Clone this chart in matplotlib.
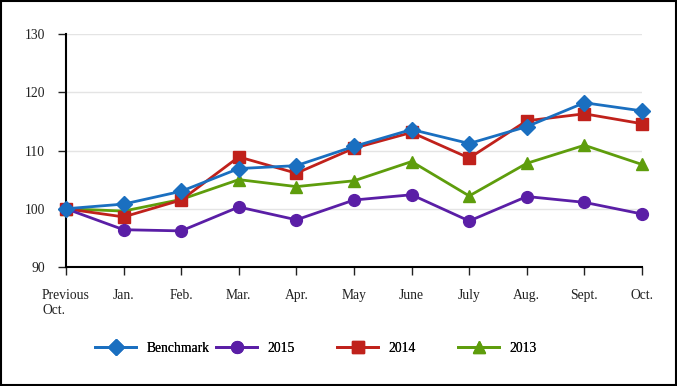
import matplotlib

matplotlib.use("Agg")
import matplotlib.pyplot as plt  # noqa: E402
from matplotlib.patches import Rectangle  # noqa: E402

# values
months = ["Previous\nOct.", "Jan.", "Feb.", "Mar.", "Apr.", "May",
          "June", "July", "Aug.", "Sept.", "Oct."]
benchmark = [100, 100.8, 103.0, 106.9, 107.4, 110.7, 113.6, 111.2, 114.1, 118.2, 116.8]
y2015 = [100, 96.4, 96.2, 100.3, 98.1, 101.5, 102.4, 97.9, 102.1, 101.1, 99.1]
y2014 = [100, 98.6, 101.5, 108.9, 106.1, 110.4, 113.1, 108.7, 115.1, 116.3, 114.6]
y2013 = [100, 99.6, 101.6, 105.0, 103.8, 104.8, 108.1, 102.2, 107.8, 110.9, 107.6]
yticks = [90, 100, 110, 120, 130]

plt.rcParams["font.family"] = ["Liberation Serif", "DejaVu Serif"]
plt.rcParams["font.size"] = 9.8

fig = plt.figure(figsize=(6.77, 3.86), dpi=100)
ax = fig.add_axes([66 / 677, 1 - 267 / 386, 576 / 677, 233 / 386])

x = list(range(len(months)))
series = [
    ("2013", y2013, "#5e9d0c", "^", 8),
    ("2014", y2014, "#c0211b", "s", 8),
    ("2015", y2015, "#5a1ea6", "o", 8.5),
    ("Benchmark", benchmark, "#1a6fc0", "D", 8),
]
handles = {}
for name, vals, color, mk, ms in series:
    (ln,) = ax.plot(x, vals, color=color, marker=mk, markersize=ms,
                    linewidth=2, clip_on=False, zorder=3)
    handles[name] = ln

ax.set_xlim(0, len(months) - 1)
ax.set_ylim(90, 130)
ax.set_yticks(yticks)
ax.set_xticks(x)
ax.set_xticklabels(months)
for lab in ax.get_xticklabels():
    lab.set_multialignment("left")
    lab.set_verticalalignment("top")

ax.grid(axis="y", color="#e4e4e4", linewidth=1)
ax.set_axisbelow(True)
for side in ("top", "right"):
    ax.spines[side].set_visible(False)
ax.spines["left"].set_linewidth(1.5)
ax.spines["bottom"].set_linewidth(1.5)
ax.tick_params(axis="y", direction="out", length=6, width=1, pad=9, colors="#222222")
ax.tick_params(axis="x", direction="out", length=6, width=1, pad=10, colors="#222222")

# one legend per entry so the columns are evenly spaced like the original
order = ["Benchmark", "2015", "2014", "2013"]
for i, name in enumerate(order):
    leg = fig.legend([handles[name]], [name], loc="center left",
                     bbox_to_anchor=((90 + i * 121) / 677, 1 - 348 / 386),
                     frameon=False, handlelength=3.0, handletextpad=0.75,
                     borderaxespad=0, fontsize=9.8)
    fig.add_artist(leg)

fig.patches.append(Rectangle((0.0015, 0.0026), 0.997, 0.9948, transform=fig.transFigure,
                             fill=False, edgecolor="black", linewidth=1.5))

fig.savefig("out.png", dpi=100)
plt.close(fig)
